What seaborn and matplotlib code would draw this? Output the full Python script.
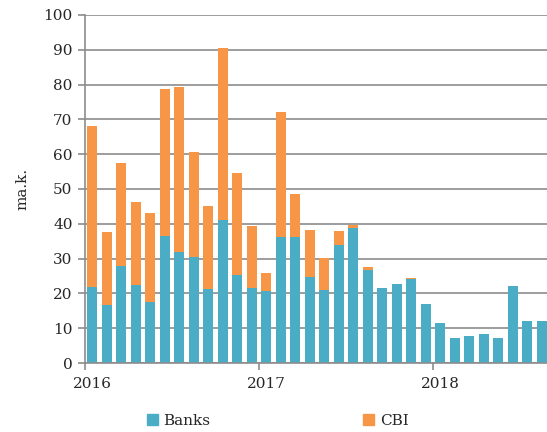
import numpy as np
import pandas as pd
import matplotlib
matplotlib.use("Agg")
import matplotlib.pyplot as plt
import seaborn as sns
from matplotlib.patches import Patch

# Monthly values, Jan 2016 - Aug 2018
months = pd.date_range("2016-01-01", "2018-08-01", freq="MS").strftime("%Y-%m").tolist()
banks = [21.7, 16.7, 27.8, 22.4, 17.4, 36.4, 32.0, 30.6, 21.4, 41.0, 25.4, 21.5,
         20.6, 36.2, 36.2, 24.7, 21.1, 33.8, 38.7, 26.6, 21.6, 22.7, 24.0, 17.0,
         11.5, 7.3, 7.9, 8.4, 7.3, 22.1, 12.0, 12.0]
cbi = [46.4, 21.0, 29.8, 24.0, 25.7, 42.4, 47.3, 30.1, 23.7, 49.6, 29.1, 17.9,
       5.4, 35.8, 12.3, 13.6, 9.2, 4.2, 1.0, 1.1, 0.0, 0.0, 0.5, 0.0,
       0.0, 0.0, 0.0, 0.0, 0.0, 0.0, 0.0, 0.0]
year_labels = ["2016", "2017", "2018"]

df = pd.DataFrame({"month": months, "Banks": banks, "CBI": cbi})
df["total"] = df["Banks"] + df["CBI"]

c_banks = "#4BACC6"
c_cbi = "#F79646"
grid_c = "#8c8c8c"

sns.set_style("white")
plt.rcParams["font.family"] = ["DejaVu Serif"]

fig = plt.figure(figsize=(5.47, 4.32), dpi=100)
ax = fig.add_axes([0.1554, 0.1597, 0.8482, 0.8056])

# stacked look: total (orange) behind, banks (teal) in front
sns.barplot(data=df, x="month", y="total", color=c_cbi, width=0.7,
            saturation=1, linewidth=0, ax=ax)
sns.barplot(data=df, x="month", y="Banks", color=c_banks, width=0.7,
            saturation=1, linewidth=0, ax=ax)

ax.set_xlim(-0.5, len(months) - 0.5)
ax.set_ylim(0, 100)
ax.set_yticks(np.arange(0, 101, 10))
ax.yaxis.grid(True, color=grid_c, linewidth=1.2)
ax.set_axisbelow(True)

# year labels under first month, tick marks at year boundaries
ax.set_xticks([0, 12, 24])
ax.set_xticklabels(year_labels, fontsize=11)
ax.set_xticks([-0.5, 11.5, 23.5], minor=True)
ax.tick_params(axis="x", which="major", length=0, pad=10)
ax.tick_params(axis="x", which="minor", length=5, width=1.2, color=grid_c, bottom=True)
ax.tick_params(axis="y", length=5, width=1.2, color=grid_c, labelsize=11, left=True, pad=4)

for s in ["top", "right"]:
    ax.spines[s].set_visible(False)
for s in ["left", "bottom"]:
    ax.spines[s].set_color(grid_c)
    ax.spines[s].set_linewidth(1.2)

ax.set_xlabel("")
ax.set_ylabel("ma.k.", fontsize=11, labelpad=10)

handles = [Patch(color=c_banks, label="Banks"), Patch(color=c_cbi, label="CBI")]
fig.legend(handles=handles, loc="lower center", bbox_to_anchor=(0.508, -0.022), ncol=2,
           frameon=False, fontsize=11, handlelength=0.7, handleheight=0.7,
           handletextpad=0.4, columnspacing=10)

fig.savefig("out.png", dpi=100)
